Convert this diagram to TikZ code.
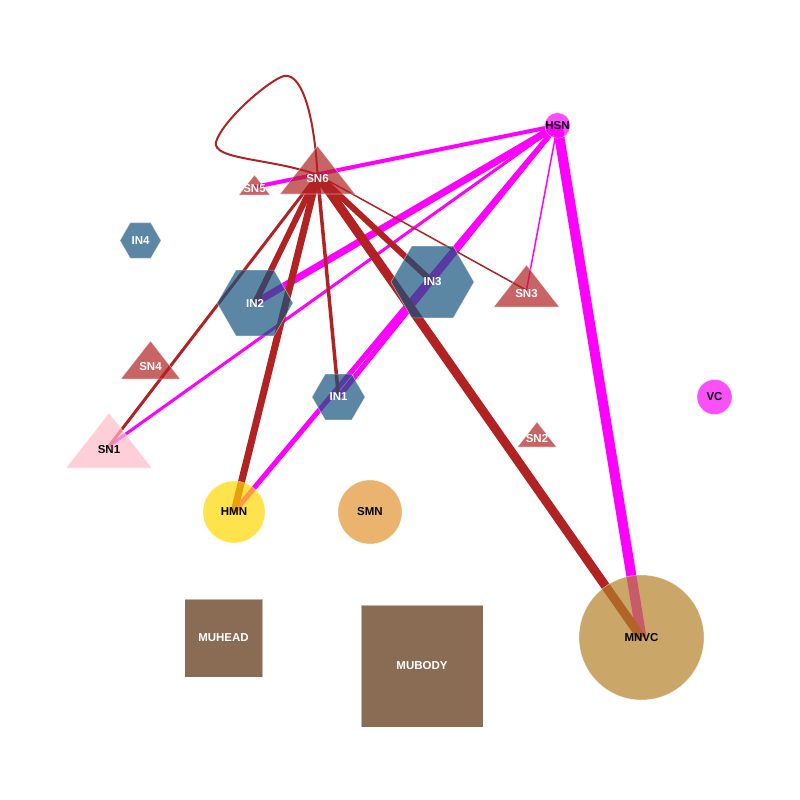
\documentclass[tikz,border=0pt]{standalone}
\usepackage{fontspec}
\setmainfont{Liberation Sans}
\usetikzlibrary{shapes.geometric}

\pgfdeclarelayer{edges}
\pgfsetlayers{edges,main}

\definecolor{linkred}{RGB}{178,34,34}
\definecolor{linkmag}{RGB}{255,0,255}
\definecolor{sncol}{RGB}{178,34,34}
\definecolor{sn1col}{RGB}{255,186,199}
\definecolor{incol}{RGB}{21,82,125}
\definecolor{hmncol}{RGB}{255,215,0}
\definecolor{smncol}{RGB}{227,148,48}
\definecolor{mucol}{RGB}{89,45,11}
\definecolor{mnvccol}{RGB}{179,129,42}
\definecolor{vccol}{RGB}{248,6,248}

\tikzset{
  nodefill/.style={fill=#1, fill opacity=0.7, draw=white, draw opacity=0.5,
                   line width=0.6pt, text opacity=1},
  lbl/.style={font=\bfseries\fontsize{11.5}{13}\selectfont, inner sep=0pt},
  lightlbl/.style={lbl, text=white},
  darklbl/.style={lbl, text=black},
  hexnode/.style={nodefill=incol, regular polygon, regular polygon sides=6,
                  minimum size=#1, lightlbl},
  roundnode/.style={nodefill=#1, circle, darklbl},
  sqnode/.style={nodefill=mucol, rectangle, lightlbl},
  redlink/.style={draw=linkred, line width=#1},
  maglink/.style={draw=linkmag, line width=#1},
}

% triangle marker: name, x, y, height, fill colour, label style, text
\newcommand\trimark[7]{%
  \coordinate (#1) at (#2,#3);
  \path[nodefill=#5, shift={(#1)}]
    (0,-0.6*#4) -- (0.78*#4,0.4*#4) -- (-0.78*#4,0.4*#4) -- cycle;
  \node[#6] (#1-t) at ([yshift=-0.07*#4 pt]#1) {#7};%
}

\begin{document}
\begin{tikzpicture}[x=1pt, y=-1pt]
\useasboundingbox (0,0) rectangle (800,800);

% triangles
\trimark{sn6}{317.5}{174.8}{48}{sncol}{lightlbl}{SN6}
\trimark{sn5}{254.5}{187}{20}{sncol}{lightlbl}{SN5}
\trimark{sn3}{526.5}{290.2}{42}{sncol}{lightlbl}{SN3}
\trimark{sn4}{150.5}{363.8}{38}{sncol}{lightlbl}{SN4}
\trimark{sn1}{109}{446}{55}{sn1col}{darklbl}{SN1}
\trimark{sn2}{537}{437}{25}{sncol}{lightlbl}{SN2}

% hexagons
\node[hexnode=83pt] (in3) at (432.5,282) {IN3};
\node[hexnode=76pt] (in2) at (255,303) {IN2};
\node[hexnode=53pt] (in1) at (338.5,397) {IN1};
\node[hexnode=41pt] (in4) at (140.5,240.5) {IN4};

% circles
\node[roundnode=linkmag, minimum size=21pt] (hsn) at (557.5,125.5) {HSN};
\node[roundnode=vccol, minimum size=35pt] (vc) at (714.5,397) {VC};
\node[roundnode=hmncol, minimum size=62pt] (hmn) at (234,512) {HMN};
\node[roundnode=smncol, minimum size=64pt] (smn) at (370,512) {SMN};
\node[roundnode=mnvccol, minimum size=125pt] (mnvc) at (641.5,637.5) {MNVC};

% squares
\node[sqnode, minimum size=78pt] (muhead) at (223.5,638) {MUHEAD};
\node[sqnode, minimum size=122pt] (mubody) at (422,666) {MUBODY};

\begin{pgfonlayer}{edges}
  % links leaving HSN
  \draw[maglink=4pt]  (hsn.center) -- (sn5);
  \draw[maglink=7pt]  (hsn.center) -- (in2.center);
  \draw[maglink=3pt]  (hsn.center) -- (sn1);
  \draw[maglink=5pt]  (hsn.center) -- (in1.center);
  \draw[maglink=5pt]  (hsn.center) -- (hmn.center);
  \draw[maglink=1.5pt](hsn.center) -- (sn3);
  \draw[maglink=10pt] (hsn.center) -- (mnvc.center);
  % links leaving SN6
  \draw[redlink=2pt] (sn6) .. controls (314,110) and (300,68) .. (281,77)
                           .. controls (262,86) and (222,122) .. (216,142)
                           .. controls (212,160) and (270,158) .. (sn6);
  \draw[redlink=3pt]   (sn6) -- (sn1);
  \draw[redlink=6pt]   (sn6) -- (in2.center);
  \draw[redlink=7pt]   (sn6) -- (hmn.center);
  \draw[redlink=3.5pt] (sn6) -- (in1.center);
  \draw[redlink=6pt]   (sn6) -- (in3.center);
  \draw[redlink=1.5pt] (sn6) -- (sn3);
  \draw[redlink=9pt]   (sn6) -- (mnvc.center);
\end{pgfonlayer}
\end{tikzpicture}
\end{document}
